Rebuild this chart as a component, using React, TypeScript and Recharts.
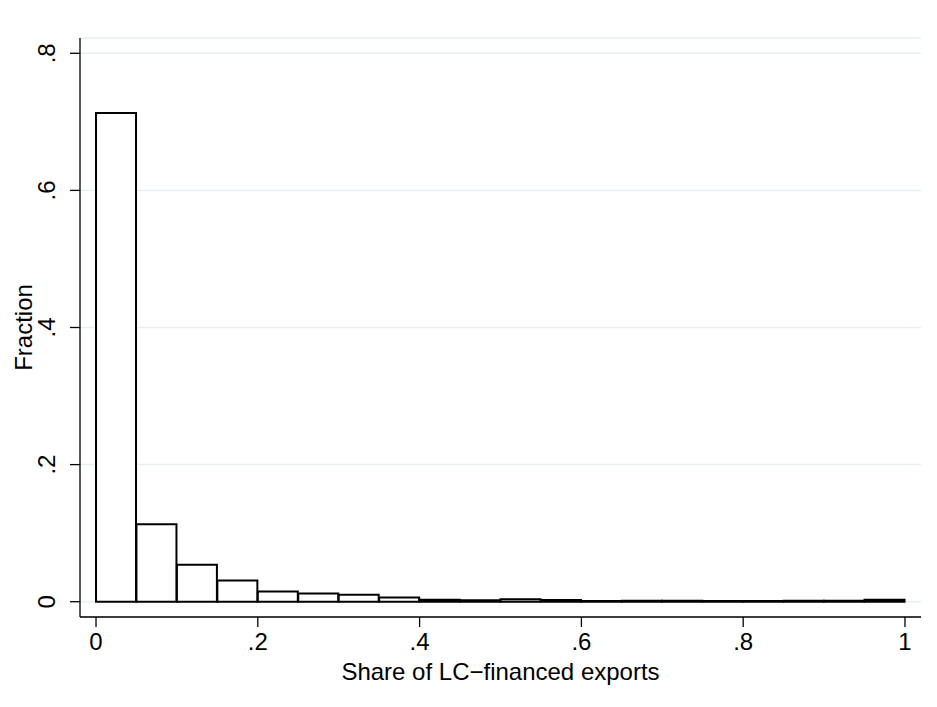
import React from 'react';
import { BarChart, Bar, XAxis, YAxis, CartesianGrid, Label } from 'recharts';

// histogram bins of width .05, x = bin midpoint
const binMids = [
  0.025, 0.075, 0.125, 0.175, 0.225, 0.275, 0.325, 0.375, 0.425, 0.475,
  0.525, 0.575, 0.625, 0.675, 0.725, 0.775, 0.825, 0.875, 0.925, 0.975,
];
const fractions = [
  0.713, 0.113, 0.054, 0.031, 0.015, 0.012, 0.010, 0.006, 0.003, 0.002,
  0.0035, 0.0025, 0.0012, 0.0015, 0.0015, 0.0012, 0.0012, 0.0015, 0.0015, 0.003,
];
const xTicks = [0, 0.2, 0.4, 0.6, 0.8, 1];
const yTicks = [0, 0.2, 0.4, 0.6, 0.8];

const data = binMids.map((mid, i) => ({ mid, fraction: fractions[i] }));

const FONT = '"Liberation Sans", Arial, Helvetica, sans-serif';

// stata style: .2 instead of 0.2
const fmt = (v: number) => String(v).replace(/^0\./, '.');

const YTick = (props: any) => {
  const { x, y, payload } = props;
  const tx = x - 10;
  return (
    <text
      x={tx}
      y={y}
      transform={`rotate(-90, ${tx}, ${y})`}
      textAnchor="middle"
      fontSize={24}
      fill="#000"
      fontFamily={FONT}
    >
      {fmt(payload.value)}
    </text>
  );
};

const YLabel = (props: any) => {
  const vb = props.viewBox || { x: 0, y: 30, width: 72, height: 579 };
  const cx = vb.x + 24;
  const cy = vb.y + vb.height / 2;
  return (
    <text
      x={cx}
      y={cy}
      transform={`rotate(-90, ${cx}, ${cy})`}
      textAnchor="middle"
      fontSize={24}
      fill="#000"
      fontFamily={FONT}
    >
      Fraction
    </text>
  );
};

export default function App() {
  return (
    <div style={{ width: 921, height: 691 }}>
      <BarChart
        width={921}
        height={691}
        data={data}
        margin={{ top: 30, right: 8, left: 0, bottom: 12 }}
        barCategoryGap={0}
        barGap={0}
        style={{ fontFamily: FONT }}
      >
        <CartesianGrid vertical={false} stroke="#e6eff1" strokeWidth={1.5} />
        <XAxis
          type="number"
          dataKey="mid"
          domain={[-0.0198, 1.0198]}
          ticks={xTicks}
          tickFormatter={fmt}
          allowDataOverflow
          height={70}
          tickSize={10}
          tickMargin={6}
          axisLine={{ stroke: '#000', strokeWidth: 1.3 }}
          tickLine={{ stroke: '#000', strokeWidth: 1.3 }}
          tick={{ fontSize: 24, fill: '#000' }}
        >
          <Label
            value="Share of LC−financed exports"
            position="insideBottom"
            offset={7}
            fontSize={24}
            fill="#000"
          />
        </XAxis>
        <YAxis
          type="number"
          domain={[-0.0223, 0.8223]}
          ticks={yTicks}
          allowDataOverflow
          width={72}
          tickSize={10}
          tickMargin={5}
          axisLine={{ stroke: '#000', strokeWidth: 1.3 }}
          tickLine={{ stroke: '#000', strokeWidth: 1.3 }}
          tick={<YTick />}
        >
          <Label content={<YLabel />} />
        </YAxis>
        <Bar
          dataKey="fraction"
          fill="#fff"
          stroke="#000"
          strokeWidth={2}
          isAnimationActive={false}
        />
      </BarChart>
    </div>
  );
}
